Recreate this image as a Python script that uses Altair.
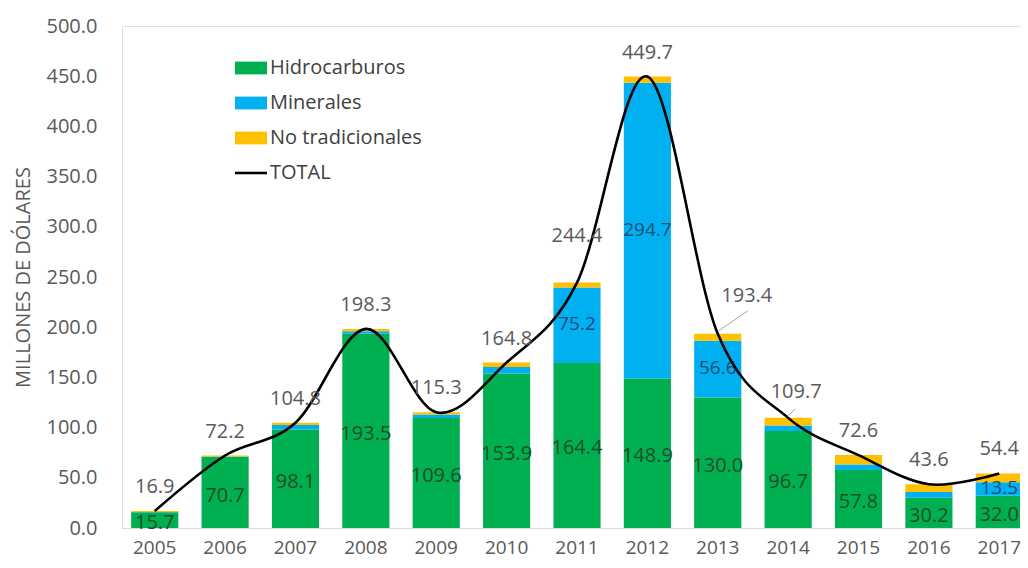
import altair as alt
import pandas as pd

years = ["2005", "2006", "2007", "2008", "2009", "2010", "2011",
         "2012", "2013", "2014", "2015", "2016", "2017"]
hidrocarburos = [15.7, 70.7, 98.1, 193.5, 109.6, 153.9, 164.4, 148.9, 130.0, 96.7, 57.8, 30.2, 32.0]
minerales = [0.3, 0.5, 4.5, 2.5, 3.5, 6.5, 75.2, 294.7, 56.6, 5.5, 5.5, 5.6, 13.5]
no_tradicionales = [0.9, 1.0, 2.2, 2.3, 2.2, 4.4, 4.8, 6.1, 6.8, 7.5, 9.3, 7.8, 8.9]
total = [16.9, 72.2, 104.8, 198.3, 115.3, 164.8, 244.4, 449.7, 193.4, 109.7, 72.6, 43.6, 54.4]

series = ["Hidrocarburos", "Minerales", "No tradicionales", "TOTAL"]
colors = ["#00B050", "#00B0F0", "#FFC000", "#000000"]

FONT = "Open Sans"

rows = []
for i, y in enumerate(years):
    base = 0.0
    for k, (name, vals) in enumerate(zip(series[:3], [hidrocarburos, minerales, no_tradicionales])):
        v = vals[i]
        rows.append({"year": y, "serie": name, "valor": v, "orden": k,
                     "y0": base, "y1": base + v, "mid": base + v / 2})
        base += v
bars_df = pd.DataFrame(rows)
tot_df = pd.DataFrame({"year": years, "total": total})

x_enc = alt.X("year:N", title=None,
              scale=alt.Scale(domain=years, range=[0, 910], paddingInner=0.33, paddingOuter=0.13),
              axis=alt.Axis(labelAngle=0, labelFont=FONT, labelFontSize=19, labelColor="#595959",
                            labelPadding=10, ticks=False, domainColor="#d9d9d9", domainWidth=1.2))
y_scale = alt.Scale(domain=[0, 500], nice=False)

shape_expr = ("datum.value === 'TOTAL' ? 'M-1,-0.08L1,-0.08L1,0.08L-1,0.08Z' : "
              "'M-1,-0.4L1,-0.4L1,0.4L-1,0.4Z'")

bars = alt.Chart(bars_df).mark_bar().encode(
    x=x_enc,
    y=alt.Y("y0:Q", scale=y_scale,
            axis=alt.Axis(title="MILLONES DE DÓLARES", values=list(range(0, 501, 50)), format=".1f",
                          labelFont=FONT, labelFontSize=20, labelColor="#595959", labelPadding=25,
                          ticks=False, domain=False, grid=False, titleFont=FONT, titleFontSize=20,
                          titleFontWeight="normal", titleColor="#595959", titlePadding=13)),
    y2="y1:Q",
    color=alt.Color("serie:N", scale=alt.Scale(domain=series, range=colors),
                    legend=alt.Legend(title=None, orient="none", legendX=113, legendY=26,
                                      symbolType={"expr": shape_expr}, symbolSize=1024,
                                      symbolStrokeWidth=0, labelFont=FONT, labelFontSize=20,
                                      labelColor="#404040", labelOffset=3, rowPadding=9)),
    order=alt.Order("orden:Q"),
)

hidro_text = alt.Chart(bars_df).transform_filter(
    alt.datum.serie == "Hidrocarburos"
).mark_text(font=FONT, fontSize=20, color="#1f4d2c", baseline="middle", dy=3).encode(
    x=alt.X("year:N", scale=alt.Scale(domain=years)),
    y=alt.Y("mid:Q", scale=y_scale),
    text=alt.Text("valor:Q", format=".1f"),
)

min_text = alt.Chart(bars_df).transform_filter(
    (alt.datum.serie == "Minerales") & (alt.datum.valor >= 10)
).mark_text(font=FONT, fontSize=19, color="#1d4e78", baseline="middle", dy=-1).encode(
    x=alt.X("year:N"),
    y=alt.Y("mid:Q", scale=y_scale),
    text=alt.Text("valor:Q", format=".1f"),
)

line = alt.Chart(tot_df).mark_line(color="#000000", strokeWidth=2.6, interpolate="cardinal").encode(
    x=alt.X("year:N"),
    y=alt.Y("total:Q", scale=y_scale),
)

def total_labels(sel, dx, dy):
    return alt.Chart(tot_df).transform_filter(
        alt.FieldOneOfPredicate(field="year", oneOf=sel)
    ).mark_text(font=FONT, fontSize=20, color="#595959", baseline="middle", dx=dx, dy=dy).encode(
        x=alt.X("year:N"),
        y=alt.Y("total:Q", scale=y_scale),
        text=alt.Text("total:Q", format=".1f"),
    )

regular = [y for y in years if y not in ("2011", "2013", "2014")]
lab_a = total_labels(regular, 0, -24)
lab_2011 = total_labels(["2011"], 0, -47)
lab_2013 = total_labels(["2013"], 29, -38)
lab_2014 = total_labels(["2014"], 8, -26)

leader_2013 = alt.Chart(tot_df).transform_filter(alt.datum.year == "2013").mark_rule(
    color="#a6a6a6", strokeWidth=1, xOffset=1, yOffset=-3, x2Offset=30, y2Offset=-23
).encode(x=alt.X("year:N"), x2=alt.X2("year:N"), y=alt.Y("total:Q", scale=y_scale), y2=alt.Y2("total:Q"))

leader_2014 = alt.Chart(tot_df).transform_filter(alt.datum.year == "2014").mark_rule(
    color="#a6a6a6", strokeWidth=1, xOffset=0, yOffset=-2, x2Offset=7, y2Offset=-9
).encode(x=alt.X("year:N"), x2=alt.X2("year:N"), y=alt.Y("total:Q", scale=y_scale), y2=alt.Y2("total:Q"))

chart = alt.layer(
    bars, hidro_text, min_text, leader_2013, leader_2014, line, lab_a, lab_2011, lab_2013, lab_2014
).properties(
    width=898, height=502,
    autosize=alt.AutoSizeParams(type="none"),
    padding={"left": 114, "top": 18, "right": 0, "bottom": 32},
).configure_view(stroke=None).configure(background="white")

chart.save("out.html", embed_options={"renderer": "svg", "actions": False})
